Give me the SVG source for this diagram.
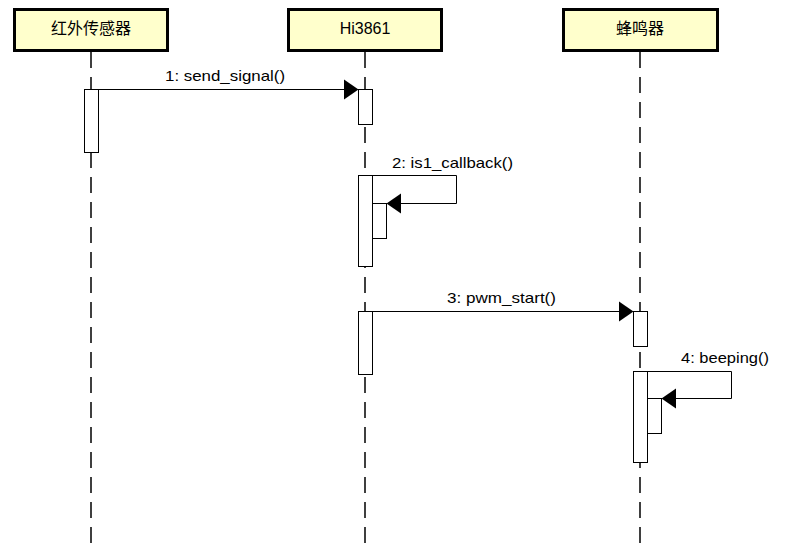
<svg xmlns="http://www.w3.org/2000/svg" width="787" height="547" viewBox="0 0 787 547">
<style>
.hdr{fill:#FFFFCC;stroke:#000;stroke-width:3}
.ht{font-family:"Liberation Sans","Noto Sans CJK SC",sans-serif;font-size:16px;fill:#000;text-anchor:middle}
.life{stroke:#000;stroke-width:1.5;stroke-dasharray:16 9;fill:none}
.act{fill:#fff;stroke:#000;stroke-width:1}
.msg{stroke:#000;stroke-width:1;fill:none}
.head{fill:#000;stroke:none}
.lbl{font-family:"Liberation Sans",Arial,sans-serif;font-size:14.5px;fill:#000}
</style>
<rect width="787" height="547" fill="#fff"/>
<g id="lifelines">
<line class="life" x1="91" y1="52" x2="91" y2="547"/>
<line class="life" x1="365" y1="52" x2="365" y2="547"/>
<line class="life" x1="640" y1="52" x2="640" y2="547"/>
</g>
<g id="node-ir">
<rect class="hdr" x="14.5" y="9.5" width="153" height="41"/>
<text class="ht" x="91" y="34">红外传感器</text>
</g>
<g id="node-hi3861">
<rect class="hdr" x="288.5" y="9.5" width="153" height="41"/>
<text class="ht" x="365" y="34">Hi3861</text>
</g>
<g id="node-buzzer">
<rect class="hdr" x="563.5" y="9.5" width="154" height="41"/>
<text class="ht" x="640" y="34">蜂鸣器</text>
</g>
<g id="activations">
<rect class="act" x="84.5" y="89.5" width="14" height="63"/>
<rect class="act" x="358.5" y="89.5" width="14" height="35"/>
<rect class="act" x="358.5" y="175.5" width="14" height="91"/>
<rect class="act" x="372.5" y="203.5" width="14" height="35"/>
<rect class="act" x="358.5" y="311.5" width="14" height="63"/>
<rect class="act" x="633.5" y="311.5" width="14" height="35"/>
<rect class="act" x="633.5" y="371.5" width="14" height="91"/>
<rect class="act" x="647.5" y="398.5" width="14" height="35"/>
</g>
<g id="connectors">
<line class="msg" x1="98.5" y1="89.5" x2="345" y2="89.5"/>
<polygon class="head" points="344,79.5 358.5,89.5 344,99.5"/>
<path class="msg" d="M372.5,175.5 H456.5 V203.5 H400"/>
<polygon class="head" points="401,193.5 386.5,203.5 401,213.5"/>
<line class="msg" x1="372.5" y1="311.5" x2="620" y2="311.5"/>
<polygon class="head" points="619,301.5 633.5,311.5 619,321.5"/>
<path class="msg" d="M647.5,371.5 H731.5 V398.5 H675"/>
<polygon class="head" points="676,388.5 661.5,398.5 676,408.5"/>
</g>
<g id="labels">
<text class="lbl" x="165" y="81" textLength="120" lengthAdjust="spacingAndGlyphs">1: send_signal()</text>
<text class="lbl" x="392" y="168" textLength="121" lengthAdjust="spacingAndGlyphs">2: is1_callback()</text>
<text class="lbl" x="447" y="303" textLength="109" lengthAdjust="spacingAndGlyphs">3: pwm_start()</text>
<text class="lbl" x="681" y="363" textLength="88" lengthAdjust="spacingAndGlyphs">4: beeping()</text>
</g>
</svg>
